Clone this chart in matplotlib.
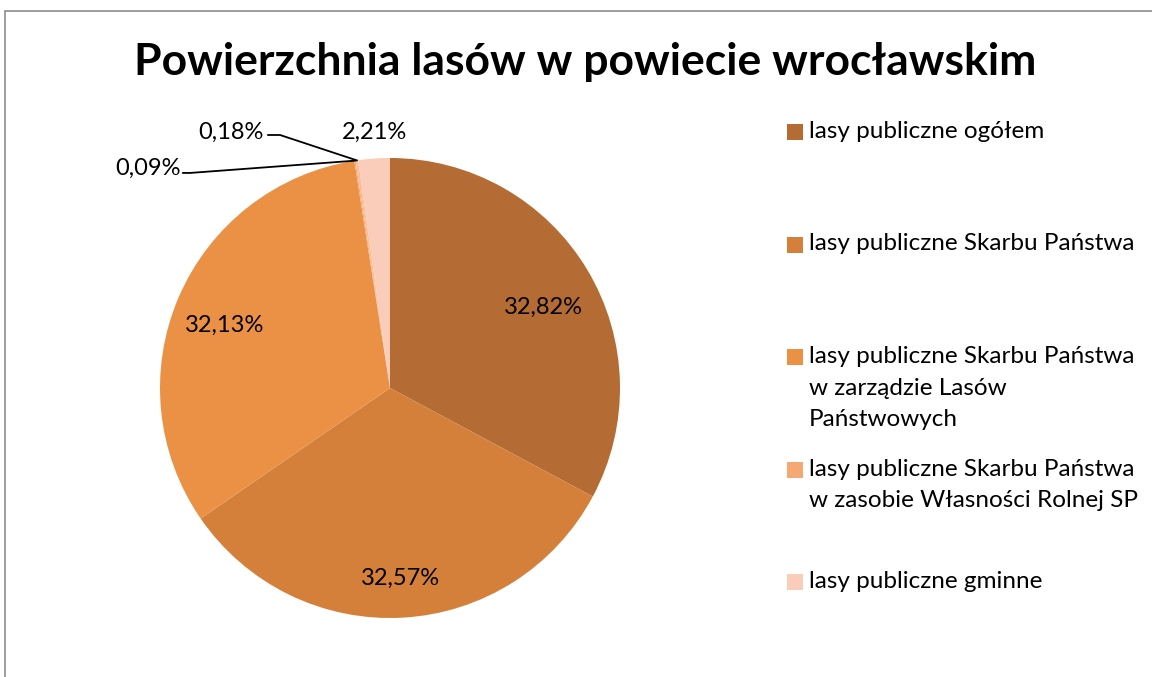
import numpy as np
import matplotlib
matplotlib.use("Agg")
import matplotlib.pyplot as plt
from matplotlib.patches import Rectangle

plt.rcParams['font.family'] = ['Lato', 'DejaVu Sans']

# data (clockwise from 12 o'clock)
values = [32.82, 32.57, 32.13, 0.09, 0.18, 2.21]
value_labels = ["32,82%", "32,57%", "32,13%", "0,09%", "0,18%", "2,21%"]
colors = ["#B46C34", "#D4803A", "#EB9146", "#F6A874", "#F8BE98", "#F9CDB9"]
legend_labels = [
    "lasy publiczne ogółem",
    "lasy publiczne Skarbu Państwa",
    "lasy publiczne Skarbu Państwa\nw zarządzie Lasów\nPaństwowych",
    "lasy publiczne Skarbu Państwa\nw zasobie Własności Rolnej SP",
    "lasy publiczne gminne",
]
legend_wedges = [0, 1, 2, 3, 5]

W, H = 1152, 677
fig = plt.figure(figsize=(W / 100, H / 100), dpi=100)

# outer chart border
fig.add_artist(Rectangle((4.5 / W, -0.1), 2, 1.1 - 10.5 / H, transform=fig.transFigure,
                         fill=False, edgecolor="#8c8c8c", lw=1.2))

ax = fig.add_axes([160 / W, 59 / H, 460 / W, 460 / H])
wedges, _ = ax.pie(values, colors=colors, startangle=90, counterclock=False,
                   wedgeprops=dict(linewidth=0))
ax.set_xlim(-1, 1)
ax.set_ylim(-1, 1)
ax.set_aspect("equal")
ax.axis("off")

fs = 17

# labels inside the big slices
big_pos = {0: (0.665, 0.35), 1: (0.045, -0.826), 2: (-0.717, 0.274), 5: (-0.068, 1.113)}
for i, (x, y) in big_pos.items():
    ax.text(x, y, value_labels[i], ha="center", va="center", fontsize=fs, clip_on=False)

# small slices with leader lines
def edge_point(i):
    start = 90 - sum(values[:i]) * 3.6
    mid = np.deg2rad(start - values[i] * 1.8)
    return np.cos(mid), np.sin(mid)

ex, ey = edge_point(4)
ax.text(-0.55, 1.113, value_labels[4], ha="right", va="center", fontsize=fs, clip_on=False)
ax.plot([-0.53, -0.478, ex], [1.10, 1.10, ey], color="black", lw=1.3, clip_on=False)

ex, ey = edge_point(3)
ax.text(-0.91, 0.957, value_labels[3], ha="right", va="center", fontsize=fs, clip_on=False)
ax.plot([-0.90, -0.87, ex], [0.935, 0.935, ey], color="black", lw=1.3, clip_on=False)

# title
fig.text(585 / W, 1 - 62 / H, "Powierzchnia lasów w powiecie wrocławskim",
         ha="center", va="center", fontsize=32, fontweight="bold")

# legend, evenly spaced entries
for k, (lab, wi) in enumerate(zip(legend_labels, legend_wedges)):
    ytop = 121 + k * 112.5
    fig.add_artist(Rectangle((787 / W, 1 - (ytop + 19) / H), 16 / W, 16 / H,
                             transform=fig.transFigure, facecolor=colors[wi], edgecolor="none"))
    fig.text(809 / W, 1 - ytop / H, lab, ha="left", va="top", fontsize=17.5,
             linespacing=1.62)

fig.savefig("out.png", dpi=100)
